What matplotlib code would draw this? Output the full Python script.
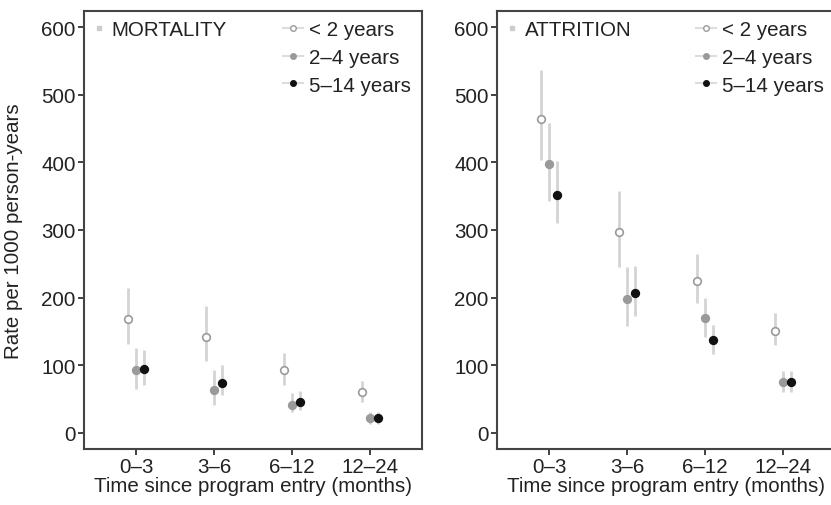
import matplotlib.pyplot as plt
from matplotlib.lines import Line2D

plt.rcParams['font.family'] = ['Liberation Sans', 'DejaVu Sans']

periods = ['0\u20133', '3\u20136', '6\u201312', '12\u201324']
groups = ['< 2 years', '2\u20134 years', '5\u201314 years']

# mortality: point estimate, lower, upper for each age group
mort_rate = [[168, 142, 92, 60], [92, 63, 41, 21], [94, 74, 46, 21]]
mort_lo = [[131, 106, 70, 46], [65, 41, 31, 13], [71, 55, 33, 13]]
mort_hi = [[214, 188, 118, 77], [126, 92, 59, 31], [122, 100, 61, 31]]

# attrition
attr_rate = [[465, 297, 225, 151], [397, 198, 169, 75], [352, 206, 137, 75]]
attr_lo = [[403, 245, 192, 129], [343, 158, 142, 60], [310, 173, 117, 60]]
attr_hi = [[537, 358, 264, 177], [459, 245, 200, 91], [402, 247, 160, 91]]

face = ['white', '#9a9a9a', '#111111']
edge = ['#9a9a9a', '#9a9a9a', '#111111']
offsets = [-0.1, 0.0, 0.1]
ci_col = '#d4d4d4'
fs = 14.8

fig = plt.figure(figsize=(8.31, 5.06), dpi=100)
ax1 = fig.add_axes([0.101, 0.111, 0.407, 0.865])
ax2 = fig.add_axes([0.598, 0.111, 0.407, 0.865])


def draw(ax, rate, lo, hi, title):
    for g in range(3):
        xs = [i + offsets[g] for i in range(len(periods))]
        yerr = [[r - l for r, l in zip(rate[g], lo[g])],
                [h - r for r, h in zip(rate[g], hi[g])]]
        ax.errorbar(xs, rate[g], yerr=yerr, fmt='o', ms=5.5,
                    mfc=face[g], mec=edge[g], mew=1.2,
                    ecolor=ci_col, elinewidth=2, capsize=0, zorder=3)
    ax.set_xlim(-0.667, 3.667)
    ax.set_ylim(-24, 624)
    ax.set_yticks([0, 100, 200, 300, 400, 500, 600])
    ax.set_xticks(range(len(periods)))
    ax.set_xticklabels(periods)
    ax.tick_params(labelsize=fs, colors='#222222', length=4, width=1.2,
                   direction='out', pad=2)
    for s in ax.spines.values():
        s.set_color('#444444')
        s.set_linewidth(1.5)
    ax.set_xlabel('Time since program entry (months)', fontsize=fs,
                  color='#222222', labelpad=0)

    handles = [Line2D([0], [0], color='#dddddd', lw=1.5, marker='o', ms=4,
                      mfc=face[g], mec=edge[g]) for g in range(3)]
    leg = ax.legend(handles, groups, loc='upper right', frameon=False,
                    fontsize=fs, handlelength=1.0, handletextpad=0.3,
                    labelspacing=0.42, borderaxespad=0.05,
                    bbox_to_anchor=(0.995, 1.0))
    for t in leg.get_texts():
        t.set_color('#222222')
    ax.add_artist(leg)
    th = [Line2D([0], [0], ls='none', marker='s', ms=3, mfc='#cccccc',
                 mec='#cccccc')]
    leg2 = ax.legend(th, [title], loc='upper left', frameon=False,
                     fontsize=fs, handlelength=0.6, handletextpad=0.3,
                     borderaxespad=0.05)
    for t in leg2.get_texts():
        t.set_color('#222222')


draw(ax1, mort_rate, mort_lo, mort_hi, 'MORTALITY')
draw(ax2, attr_rate, attr_lo, attr_hi, 'ATTRITION')
ax1.set_ylabel('Rate per 1000 person-years', fontsize=fs, color='#222222')
ax1.yaxis.set_label_coords(-0.18, 0.5)

fig.savefig('out.png', dpi=100)
